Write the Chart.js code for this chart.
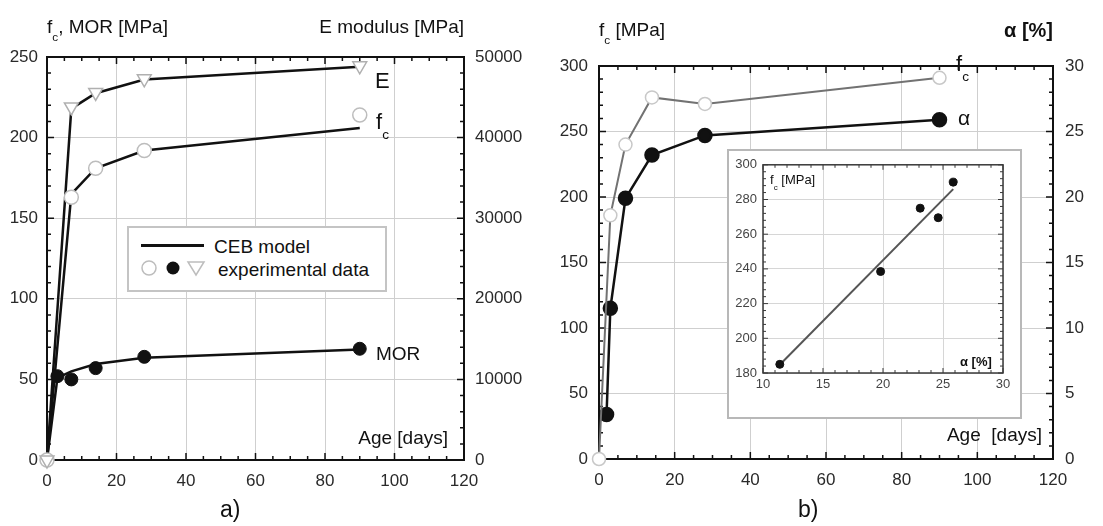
<!DOCTYPE html>
<html>
<head>
<meta charset="utf-8">
<script src="https://cdn.jsdelivr.net/npm/chart.js@4.4.1/dist/chart.umd.min.js"></script>
<style>
  html, body { margin: 0; padding: 0; background: #fff; }
  #wrap { position: relative; width: 1103px; height: 526px; overflow: hidden;
          font-family: "Liberation Sans", Arial, sans-serif; color: #111; }
  canvas { position: absolute; }
  #chartA { left: 0; top: 0; }
  #chartB { left: 551px; top: 0; }
  #insetBox { position: absolute; left: 727px; top: 149px; width: 295px; height: 270px;
              box-sizing: border-box; border: 2px solid #b8b8b8; background: #fff; }
  #inset { left: 0; top: 0; }
  .lbl { position: absolute; white-space: pre; line-height: 1; }
  sub { font-size: 62%; vertical-align: -0.7em; line-height: 0; }
  #legend { position: absolute; left: 127px; top: 226px; width: 260px; height: 66px;
            box-sizing: border-box; border: 2px solid #c4c4c4; background: #fff; }
</style>
</head>
<body>
<div id="wrap">
  <canvas id="chartA" width="551" height="526"></canvas>
  <canvas id="chartB" width="552" height="526"></canvas>
  <div id="insetBox"><canvas id="inset" width="291" height="266"></canvas></div>

  <!-- panel a texts -->
  <span class="lbl" style="left:47px;top:17px;font-size:19px">f<sub>c</sub>, MOR [MPa]</span>
  <span class="lbl" style="right:639px;top:17px;font-size:19px">E modulus [MPa]</span>
  <span class="lbl" style="left:375px;top:70px;font-size:22px">E</span>
  <span class="lbl" style="left:376px;top:111px;font-size:22px">f<sub>c</sub></span>
  <span class="lbl" style="left:376px;top:344px;font-size:19px">MOR</span>
  <span class="lbl" style="right:655px;top:428px;font-size:19px">Age [days]</span>
  <span class="lbl" style="left:220px;top:498px;font-size:23px">a)</span>

  <div id="legend">
    <div style="position:absolute;left:12px;top:16px;width:63px;height:3px;background:#111"></div>
    <span class="lbl" style="left:85px;top:9px;font-size:19px">CEB model</span>
    <svg style="position:absolute;left:8px;top:30px" width="76" height="22">
      <circle cx="12" cy="10" r="7" fill="#fff" stroke="#bdbdbd" stroke-width="1.5"/>
      <circle cx="36" cy="10" r="6.5" fill="#111"/>
      <polygon points="51,4 67,4 59,17" fill="#fff" stroke="#bdbdbd" stroke-width="1.5"/>
    </svg>
    <span class="lbl" style="left:89px;top:32px;font-size:19px">experimental data</span>
  </div>

  <!-- panel b texts -->
  <span class="lbl" style="left:599px;top:20px;font-size:19px">f<sub>c</sub> [MPa]</span>
  <span class="lbl" style="right:50px;top:20px;font-size:20px;font-weight:bold">α [%]</span>
  <span class="lbl" style="left:956px;top:53px;font-size:22px">f<sub>c</sub></span>
  <span class="lbl" style="left:958px;top:107px;font-size:21px">α</span>
  <span class="lbl" style="right:61px;top:425px;font-size:19px">Age  [days]</span>
  <span class="lbl" style="left:798px;top:498px;font-size:23px">b)</span>

  <!-- inset texts -->
  <span class="lbl" style="left:770px;top:173px;font-size:13px">f<sub>c</sub> [MPa]</span>
  <span class="lbl" style="left:960px;top:355px;font-size:13px;font-weight:bold">α [%]</span>
</div>

<script>
// ---- panel a: CEB model vs experiments ----
const daysExp = [0, 7, 14, 28, 90];
const eExp = [0, 43800, 45600, 47300, 48900];
const fcExp = [0, 163, 181, 192, 214];
const daysModel = [0, 7, 14, 28, 90];
const eModel = [0, 43600, 45500, 47200, 48800];
const fcModel = [0, 165, 181, 192, 206];
const daysMor = [3, 7, 14, 28, 90];
const morExp = [52, 50, 57, 64, 69];
const daysMorModel = [0, 3, 7, 14, 28, 90];
const morModel = [0, 51, 55, 59.5, 63.5, 68.5];

// ---- panel b: fc and alpha ----
const daysFcB = [0, 3, 7, 14, 28, 90];
const fcB = [0, 186, 240, 276, 271, 291];
const daysAlpha = [2, 3, 7, 14, 28, 90];
const alphaB = [3.4, 11.5, 19.9, 23.2, 24.7, 25.9];

// ---- inset: fc vs alpha ----
const alphaInset = [11.4, 19.8, 23.1, 24.6, 25.85];
const fcInset = [185, 238.5, 275, 269.5, 290];
const fitAlpha = [11.5, 25.85];
const fitFc = [185.5, 286];

// tick labels
const dayTicks = [0, 20, 40, 60, 80, 100, 120];
const mpaTicksA = [0, 50, 100, 150, 200, 250];
const eTicks = [0, 10000, 20000, 30000, 40000, 50000];
const mpaTicksB = [0, 50, 100, 150, 200, 250, 300];
const alphaTicks = [0, 5, 10, 15, 20, 25, 30];
const insetXTicks = [10, 15, 20, 25, 30];
const insetYTicks = [180, 200, 220, 240, 260, 280, 300];

Chart.defaults.font.family = '"Liberation Sans", Arial, sans-serif';
Chart.defaults.color = '#2a2a2a';

const pts = (xs, ys) => xs.map((x, i) => ({ x: x, y: ys[i] }));
const fixTicks = arr => (s => { s.ticks = arr.map(v => ({ value: v })); });

// frame + inward minor/major ticks
function frameTicks(o) {
  return {
    id: 'frameTicks',
    beforeDatasetsDraw(chart) {
      const { ctx, chartArea: a, scales } = chart;
      const x = scales.x, y = scales.y;
      ctx.save();
      ctx.strokeStyle = o.color;
      ctx.lineWidth = o.tickWidth;
      ctx.beginPath();
      const nx = Math.round((x.max - x.min) / o.xMinor);
      for (let i = 0; i <= nx; i++) {
        const v = x.min + i * o.xMinor;
        const len = (Math.abs(v / o.xMajor - Math.round(v / o.xMajor)) < 1e-6) ? o.major : o.minor;
        const px = x.getPixelForValue(v);
        ctx.moveTo(px, a.bottom); ctx.lineTo(px, a.bottom - len);
        ctx.moveTo(px, a.top); ctx.lineTo(px, a.top + len);
      }
      const ny = Math.round((y.max - y.min) / o.yMinor);
      for (let i = 0; i <= ny; i++) {
        const v = y.min + i * o.yMinor;
        const len = (Math.abs(v / o.yMajor - Math.round(v / o.yMajor)) < 1e-6) ? o.major : o.minor;
        const py = y.getPixelForValue(v);
        ctx.moveTo(a.left, py); ctx.lineTo(a.left + len, py);
        ctx.moveTo(a.right, py); ctx.lineTo(a.right - len, py);
      }
      ctx.stroke();
      ctx.lineWidth = o.frameWidth;
      ctx.strokeRect(a.left, a.top, a.right - a.left, a.bottom - a.top);
      ctx.restore();
    }
  };
}

const gridCol = '#cfcfcf';
const tickFont = { size: 17 };

// ---------- chart a ----------
new Chart(document.getElementById('chartA'), {
  type: 'scatter',
  data: {
    datasets: [
      { data: pts(daysModel, eModel), yAxisID: 'y2', showLine: true, borderColor: '#111', borderWidth: 2.5, pointRadius: 0, order: 2 },
      { data: pts(daysModel, fcModel), showLine: true, borderColor: '#111', borderWidth: 2.5, pointRadius: 0, order: 2 },
      { data: pts(daysMorModel, morModel), showLine: true, borderColor: '#111', borderWidth: 2.5, pointRadius: 0, order: 2 },
      { data: pts(daysMor, morExp), pointRadius: 6.5, pointBackgroundColor: '#111', pointBorderColor: '#111', pointBorderWidth: 1, clip: false, order: 1 },
      { data: pts(daysExp, fcExp), pointRadius: 7, pointBackgroundColor: '#fff', pointBorderColor: '#bdbdbd', pointBorderWidth: 1.5, clip: false, order: 1 },
      { data: pts(daysExp, eExp), yAxisID: 'y2', pointStyle: 'triangle', rotation: 180, pointRadius: 8, pointBackgroundColor: '#fff', pointBorderColor: '#b0b0b0', pointBorderWidth: 1.5, clip: false, order: 0 }
    ]
  },
  options: {
    responsive: false,
    animation: false,
    layout: { padding: { top: 57, left: 0, right: 0, bottom: 0 } },
    plugins: { legend: { display: false }, tooltip: { enabled: false } },
    scales: {
      x: {
        type: 'linear', min: 0, max: 120,
        afterBuildTicks: fixTicks(dayTicks),
        afterFit: s => { s.height = 66; },
        grid: { color: gridCol, drawTicks: false },
        border: { display: false },
        ticks: { padding: 11, font: tickFont, callback: v => v, maxRotation: 0 }
      },
      y: {
        min: 0, max: 250,
        afterBuildTicks: fixTicks(mpaTicksA),
        afterFit: s => { s.width = 47; },
        grid: { color: gridCol, drawTicks: false },
        border: { display: false },
        ticks: { padding: 9, font: tickFont, callback: v => v }
      },
      y2: {
        position: 'right', min: 0, max: 50000,
        afterBuildTicks: fixTicks(eTicks),
        afterFit: s => { s.width = 87; },
        grid: { display: false, drawTicks: false },
        border: { display: false },
        ticks: { padding: 11, font: tickFont, callback: v => String(v) }
      }
    }
  },
  plugins: [frameTicks({ color: '#111', tickWidth: 1.5, frameWidth: 2, xMinor: 5, xMajor: 20, yMinor: 10, yMajor: 50, major: 7, minor: 4 })]
});

// ---------- chart b ----------
new Chart(document.getElementById('chartB'), {
  type: 'scatter',
  data: {
    datasets: [
      { data: pts(daysAlpha, alphaB), yAxisID: 'y2', showLine: true, borderColor: '#111', borderWidth: 2.5, pointRadius: 6.5, pointBackgroundColor: '#111', pointBorderColor: '#111', clip: false, order: 2 },
      { data: pts(daysFcB, fcB), showLine: true, borderColor: '#727272', borderWidth: 2, pointRadius: 6.5, pointBackgroundColor: '#fff', pointBorderColor: '#c8c8c8', pointBorderWidth: 1.5, clip: false, order: 1 }
    ]
  },
  options: {
    responsive: false,
    animation: false,
    layout: { padding: { top: 66, left: 0, right: 0, bottom: 0 } },
    plugins: { legend: { display: false }, tooltip: { enabled: false } },
    scales: {
      x: {
        type: 'linear', min: 0, max: 120,
        afterBuildTicks: fixTicks(dayTicks),
        afterFit: s => { s.height = 67; },
        grid: { color: gridCol, drawTicks: false },
        border: { display: false },
        ticks: { padding: 11, font: tickFont, callback: v => v, maxRotation: 0 }
      },
      y: {
        min: 0, max: 300,
        afterBuildTicks: fixTicks(mpaTicksB),
        afterFit: s => { s.width = 48; },
        grid: { color: gridCol, drawTicks: false },
        border: { display: false },
        ticks: { padding: 11, font: tickFont, callback: v => v }
      },
      y2: {
        position: 'right', min: 0, max: 30,
        afterBuildTicks: fixTicks(alphaTicks),
        afterFit: s => { s.width = 50; },
        grid: { display: false, drawTicks: false },
        border: { display: false },
        ticks: { padding: 12, font: tickFont, callback: v => v }
      }
    }
  },
  plugins: [frameTicks({ color: '#111', tickWidth: 1.5, frameWidth: 2, xMinor: 5, xMajor: 20, yMinor: 10, yMajor: 50, major: 7, minor: 4 })]
});

// ---------- inset ----------
const insetFont = { size: 13 };
new Chart(document.getElementById('inset'), {
  type: 'scatter',
  data: {
    datasets: [
      { data: pts(fitAlpha, fitFc), showLine: true, borderColor: '#555', borderWidth: 2, pointRadius: 0, order: 2 },
      { data: pts(alphaInset, fcInset), pointRadius: 4, pointBackgroundColor: '#111', pointBorderColor: '#111', clip: false, order: 1 }
    ]
  },
  options: {
    responsive: false,
    animation: false,
    layout: { padding: { top: 11, left: 0, right: 17, bottom: 0 } },
    plugins: { legend: { display: false }, tooltip: { enabled: false } },
    scales: {
      x: {
        type: 'linear', min: 10, max: 30,
        afterBuildTicks: fixTicks(insetXTicks),
        afterFit: s => { s.height = 44; },
        grid: { color: '#d6d6d6', drawTicks: false },
        border: { display: false },
        ticks: { padding: 4, font: insetFont, color: '#444', callback: v => v, maxRotation: 0 }
      },
      y: {
        min: 180, max: 300,
        afterBuildTicks: fixTicks(insetYTicks),
        afterFit: s => { s.width = 34; },
        grid: { color: '#d6d6d6', drawTicks: false },
        border: { display: false },
        ticks: { padding: 6, font: insetFont, color: '#444', callback: v => v }
      }
    }
  },
  plugins: [frameTicks({ color: '#3a3a3a', tickWidth: 1, frameWidth: 1.5, xMinor: 1, xMajor: 5, yMinor: 4, yMajor: 20, major: 5, minor: 3 })]
});
</script>
</body>
</html>
